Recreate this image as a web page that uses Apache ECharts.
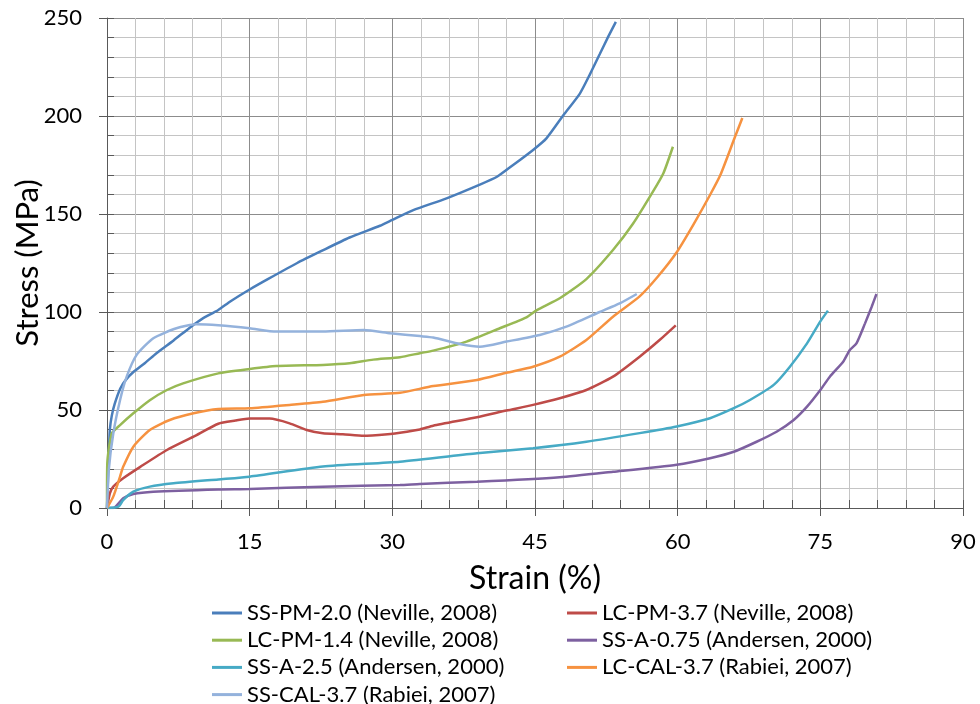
<!DOCTYPE html>
<html>
<head>
<meta charset="utf-8">
<script src="https://cdn.jsdelivr.net/npm/echarts@6/dist/echarts.min.js"></script>
<style>
  html, body { margin: 0; padding: 0; background: #fff; }
  #chart { width: 980px; height: 704px; }
</style>
</head>
<body>
<div id="chart"></div>
<script>
// Stress–strain curves of metal foams, [strain %, stress MPa]
const ssPm20 = [[0,0],[0.15,22],[0.3,40],[0.5,47],[0.8,53],[1.4,61],[2,65.5],[2.8,69.5],[4,74],[5.2,79],[7,85.5],[8.7,92],[10,96.5],[11.7,101],[13,105.5],[15,111.5],[17,117],[20,125],[22.5,131],[25.5,138],[28.7,144],[30,147],[32.2,152],[35.7,158],[39.2,165],[41,169],[42.7,175],[44.8,182.7],[46.2,188.6],[48,200.5],[49.7,211.3],[50.8,221.5],[51.8,231.5],[52.7,240.5],[53.5,248]];
const lcPm37 = [[0,0],[0.3,7.5],[0.66,10.9],[1.7,15.2],[3.5,21],[6.3,29.6],[9.1,36.4],[11.7,43],[13.5,44.6],[15,45.6],[17.1,45.6],[19.2,43.2],[21,39.8],[22.7,38.1],[24.8,37.6],[27,36.8],[29.8,37.8],[30.8,38.4],[32.9,40.1],[34.3,42],[38.9,46.3],[42,49.7],[44.8,52.6],[47.6,56],[50.4,60.2],[53.2,67],[56,77.2],[58.1,85.7],[59.8,93.2]];
const lcPm14 = [[0,0],[0.03,22.8],[0.5,38],[1.37,42.3],[2.77,48.3],[4.5,55],[6.3,60.2],[8,63.6],[11.7,68.7],[15,70.9],[17.8,72.4],[22.7,73],[25.5,73.8],[28,75.7],[30.8,76.9],[32.9,79],[34.3,80.3],[37.8,84.9],[41.3,91.7],[44.1,97.3],[45.2,101],[47.6,107],[50.4,116.8],[53.2,131.6],[55.3,145],[57.4,161.4],[58.5,170.8],[59.5,184.3]];
const ssA075 = [[0,0],[0.66,0],[1.7,4.9],[2.77,7.1],[4.87,8.3],[11.7,9.5],[15,9.7],[22.7,10.9],[30.8,11.7],[32.9,12.3],[38.9,13.4],[47.6,15.7],[53.2,18.5],[59.9,22.1],[63.4,25.4],[65.9,28.7],[68.3,33.8],[70.4,38.9],[72.2,44.9],[73.6,51.7],[75,60.2],[76,67],[77.4,74.6],[78.1,80.6],[78.8,84],[79.7,94.2],[80.4,102.7],[80.9,109.2]];
const ssA25 = [[0,0],[1.2,0.7],[1.7,4],[2.77,8.3],[4.5,10.9],[7,12.6],[11.7,14.6],[15,16],[22.7,21.2],[30.8,23.6],[38.9,27.9],[44.8,30.5],[50.4,33.8],[56,38.2],[59.9,41.6],[63.4,45.8],[65.9,50.9],[67.6,55.1],[70.1,62.8],[71.8,72.1],[73.6,84],[75,95.2],[75.8,100.7]];
const lcCal37 = [[0,0],[0.66,5.8],[1.37,16],[1.7,21],[2.77,31.3],[4.5,39.8],[6.6,44.9],[9.1,48.3],[11.7,50.5],[15,50.9],[19.2,52.6],[22.7,54.2],[27,57.7],[30.8,58.8],[34.3,62.2],[38.9,65.3],[42,69],[44.8,72.1],[47.6,77.2],[50.4,85.7],[53.2,97.6],[56,108],[57.9,118],[59.9,130.5],[61.7,145],[63.4,159.7],[64.5,170],[66,189],[66.8,199]];
const ssCal37 = [[0,0],[0.2,20],[0.66,38],[1.37,55],[2.07,67],[3.1,78],[4.87,86.6],[7.3,91.7],[9.4,93.7],[11.7,93.2],[15,91.7],[17.8,90],[22.7,90],[27,90.8],[29.8,89.2],[32.9,87.7],[34.3,87],[37.1,83.7],[39.2,82.3],[42,84.9],[45.5,88.3],[48.3,92.5],[51.8,100],[53.9,104.4],[55.7,109.2]];

const seriesNames = [
  'SS-PM-2.0 (Neville, 2008)',
  'LC-PM-3.7 (Neville, 2008)',
  'LC-PM-1.4 (Neville, 2008)',
  'SS-A-0.75 (Andersen, 2000)',
  'SS-A-2.5 (Andersen, 2000)',
  'LC-CAL-3.7 (Rabiei, 2007)',
  'SS-CAL-3.7 (Rabiei, 2007)'
];
const seriesData = [ssPm20, lcPm37, lcPm14, ssA075, ssA25, lcCal37, ssCal37];
const seriesColors = ['#4a7ebb', '#be4b48', '#98b954', '#7d60a0', '#46aac5', '#f69240', '#94b2dc'];

const xTicks = { min: 0, max: 90, interval: 15 };
const yTicks = { min: 0, max: 250, interval: 50 };

const FONT = 'Lato';
const AXIS_COLOR = '#595959';

const chart = echarts.init(document.getElementById('chart'), null, { renderer: 'canvas' });

const baseAxis = (range) => ({
  type: 'value',
  min: range.min,
  max: range.max,
  interval: range.interval
});

const legendBase = {
  orient: 'vertical',
  top: 602,
  height: 110,
  padding: 0,
  icon: 'rect',
  itemWidth: 30,
  itemHeight: 3,
  itemGap: 5.2,
  textStyle: { fontFamily: FONT, fontSize: 22, color: '#000' }
};

const option = {
  backgroundColor: '#ffffff',
  animation: false,
  grid: { left: 107, top: 18, right: 17, bottom: 196, containLabel: false, outerBoundsMode: 'none' },
  xAxis: [
    Object.assign(baseAxis(xTicks), {
      name: 'Strain (%)',
      nameLocation: 'middle',
      nameGap: 55,
      nameMoveOverlap: false,
      nameTextStyle: { fontFamily: FONT, fontSize: 32, color: '#000' },
      axisLine: { show: true, onZero: false, lineStyle: { color: AXIS_COLOR, width: 1 } },
      axisTick: { show: true, inside: false, length: 8, lineStyle: { color: AXIS_COLOR } },
      axisLabel: { fontFamily: FONT, fontSize: 22, color: '#000', margin: 23 },
      splitLine: { show: true, lineStyle: { color: '#8c8c8c', width: 1 } },
      minorTick: { show: false, splitNumber: 5 },
      minorSplitLine: { show: true, lineStyle: { color: '#c4c4c4', width: 1 } }
    }),
    // inner ticks drawn on the same bottom edge
    Object.assign(baseAxis(xTicks), {
      position: 'bottom',
      axisLine: { show: false },
      axisLabel: { show: false },
      axisTick: { show: true, inside: true, length: 8, lineStyle: { color: AXIS_COLOR } },
      minorTick: { show: true, splitNumber: 5, length: 8, lineStyle: { color: AXIS_COLOR } },
      splitLine: { show: false }
    })
  ],
  yAxis: [
    Object.assign(baseAxis(yTicks), {
      name: 'Stress (MPa)',
      nameLocation: 'middle',
      nameGap: 64,
      nameMoveOverlap: false,
      nameTextStyle: { fontFamily: FONT, fontSize: 31, color: '#000' },
      axisLine: { show: true, onZero: false, lineStyle: { color: AXIS_COLOR, width: 1 } },
      axisTick: { show: true, inside: false, length: 8, lineStyle: { color: AXIS_COLOR } },
      axisLabel: { fontFamily: FONT, fontSize: 22, color: '#000', margin: 25 },
      splitLine: { show: true, lineStyle: { color: '#8c8c8c', width: 1 } },
      minorTick: { show: false, splitNumber: 5 },
      minorSplitLine: { show: true, lineStyle: { color: '#c4c4c4', width: 1 } }
    }),
    Object.assign(baseAxis(yTicks), {
      position: 'left',
      axisLine: { show: false },
      axisLabel: { show: false },
      axisTick: { show: true, inside: true, length: 7, lineStyle: { color: AXIS_COLOR } },
      minorTick: { show: true, splitNumber: 5, length: 7, lineStyle: { color: AXIS_COLOR } },
      splitLine: { show: false }
    })
  ],
  legend: [
    Object.assign({}, legendBase, {
      left: 212,
      data: [seriesNames[0], seriesNames[2], seriesNames[4], seriesNames[6]]
    }),
    Object.assign({}, legendBase, {
      left: 567,
      data: [seriesNames[1], seriesNames[3], seriesNames[5]]
    })
  ],
  series: seriesNames.map((name, i) => ({
    name: name,
    type: 'line',
    xAxisIndex: 0,
    yAxisIndex: 0,
    data: seriesData[i],
    showSymbol: false,
    symbol: 'none',
    smooth: 0.2,
    color: seriesColors[i],
    lineStyle: { color: seriesColors[i], width: 2.5 },
    emphasis: { disabled: true }
  }))
};

chart.setOption(option);
</script>
</body>
</html>
